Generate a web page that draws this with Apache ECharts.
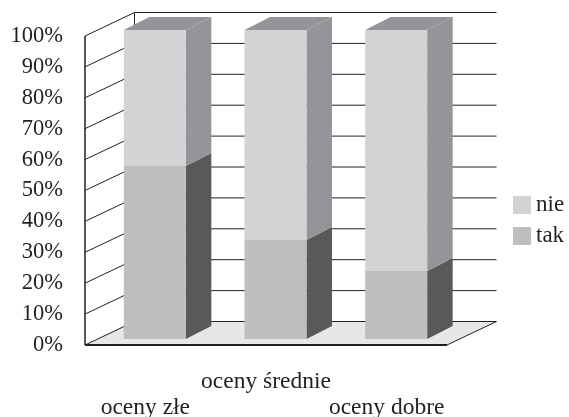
<!DOCTYPE html>
<html lang="pl">

<head>
    <meta charset="UTF-8">
    <title>oceny</title>
    <script src="https://cdn.jsdelivr.net/npm/echarts@6/dist/echarts.min.js"></script>
    <style>
        html, body { margin: 0; padding: 0; background: #fff; }
    </style>
</head>

<body>
    <div id="main" style="width: 569px; height: 417px;"></div>
    <script>
    const categories = ['oceny złe', 'oceny średnie', 'oceny dobre']
    const takValues = [56, 32, 22]
    const nieValues = [44, 68, 78]
    const ticks = [0, 10, 20, 30, 40, 50, 60, 70, 80, 90, 100]

    const serifFont = '"Liberation Serif", "Times New Roman", serif'
    const inkColor = '#231f20'

    // przesuniecie tylnej sciany wykresu i glebokosc slupkow (px)
    const wallDx = 49.5
    const wallDy = -23.5
    const barDx = 25.5
    const barDy = -13
    const barShiftX = 9.5
    const barShiftY = -6
    const barWidth = 62

    function renderWall(params, api) {
        const v = api.value(1)
        const y = api.coord([0, v])[1]
        const rect = params.coordSys
        const left = rect.x
        const right = rect.x + rect.width
        const lineStyle = { stroke: inkColor, lineWidth: 1, fill: null }
        const children = []
        if (v === 0) {
            children.push({
                type: 'polygon',
                shape: { points: [[left, y], [left + wallDx, y + wallDy], [right + wallDx, y + wallDy], [right, y]] },
                style: { fill: '#e6e7e8', stroke: null }
            })
            children.push({
                type: 'line',
                shape: { x1: right, y1: y, x2: right + wallDx, y2: y + wallDy },
                style: lineStyle
            })
            children.push({
                type: 'line',
                shape: { x1: left, y1: y, x2: right, y2: y },
                style: { stroke: inkColor, lineWidth: 2 }
            })
            children.push({
                type: 'line',
                shape: { x1: left, y1: y, x2: left, y2: rect.y },
                style: { stroke: inkColor, lineWidth: 1.5 }
            })
            children.push({
                type: 'line',
                shape: { x1: left + wallDx, y1: y + wallDy, x2: left + wallDx, y2: rect.y + wallDy },
                style: lineStyle
            })
        }
        children.push({
            type: 'polyline',
            shape: { points: [[left, y], [left + wallDx, y + wallDy], [right + wallDx, y + wallDy]] },
            style: lineStyle
        })
        return { type: 'group', children: children }
    }

    function barRenderer(frontColor, sideColor, topColor) {
        return function (params, api) {
            const idx = api.value(0)
            const low = api.coord([idx, api.value(1)])
            const high = api.coord([idx, api.value(2)])
            const x0 = low[0] + barShiftX - barWidth / 2
            const x1 = x0 + barWidth
            const y0 = low[1] + barShiftY
            const y1 = high[1] + barShiftY
            const children = [
                {
                    type: 'polygon',
                    shape: { points: [[x1, y0], [x1 + barDx, y0 + barDy], [x1 + barDx, y1 + barDy], [x1, y1]] },
                    style: { fill: sideColor }
                },
                {
                    type: 'rect',
                    shape: { x: x0, y: y1, width: barWidth, height: y0 - y1 },
                    style: { fill: frontColor }
                }
            ]
            if (topColor) {
                children.push({
                    type: 'polygon',
                    shape: { points: [[x0, y1], [x0 + barDx, y1 + barDy], [x1 + barDx, y1 + barDy], [x1, y1]] },
                    style: { fill: topColor }
                })
            }
            return { type: 'group', children: children }
        }
    }

    const myChart = echarts.init(document.getElementById('main'), null, { renderer: 'canvas' })
    const option = {
        animation: false,
        backgroundColor: '#fff',
        textStyle: { fontFamily: serifFont },
        grid: { left: 85, top: 36, width: 362, height: 309, outerBoundsMode: 'none' },
        legend: {
            orient: 'vertical',
            left: 513,
            top: 193.5,
            padding: 0,
            itemWidth: 18,
            itemHeight: 18,
            itemGap: 8,
            icon: 'rect',
            data: ['nie', 'tak'],
            textStyle: { fontFamily: serifFont, fontSize: 23, color: inkColor },
            selectedMode: false
        },
        xAxis: {
            type: 'category',
            data: categories,
            axisLine: { show: false },
            axisTick: { show: false },
            axisLabel: {
                interval: 0,
                margin: 24,
                fontFamily: serifFont,
                fontSize: 23.5,
                lineHeight: 26,
                color: inkColor,
                formatter: function (value, index) {
                    // srodkowa etykieta wyzej, pozostale o wiersz nizej
                    return index % 2 === 0 ? '\n' + value : value
                }
            }
        },
        yAxis: {
            type: 'value',
            min: 0,
            max: 100,
            interval: 10,
            axisLine: { show: false },
            axisTick: { show: false },
            splitLine: { show: false },
            axisLabel: {
                margin: 22,
                fontFamily: serifFont,
                fontSize: 22.5,
                color: inkColor,
                formatter: '{value}%'
            }
        },
        series: [
            {
                name: 'sciana',
                type: 'custom',
                silent: true,
                z: 1,
                renderItem: renderWall,
                encode: { x: 0, y: 1 },
                data: ticks.map(function (t) { return [0, t] })
            },
            {
                name: 'tak',
                type: 'custom',
                z: 2,
                itemStyle: { color: '#bcbec0' },
                renderItem: barRenderer('#bcbec0', '#58595b', null),
                encode: { x: 0, y: [1, 2] },
                data: takValues.map(function (v, i) { return [i, 0, v] })
            },
            {
                name: 'nie',
                type: 'custom',
                z: 2,
                itemStyle: { color: '#d1d3d4' },
                renderItem: barRenderer('#d1d3d4', '#939598', '#939598'),
                encode: { x: 0, y: [1, 2] },
                data: nieValues.map(function (v, i) { return [i, takValues[i], takValues[i] + v] })
            }
        ]
    }
    myChart.setOption(option)
    </script>
</body>

</html>
